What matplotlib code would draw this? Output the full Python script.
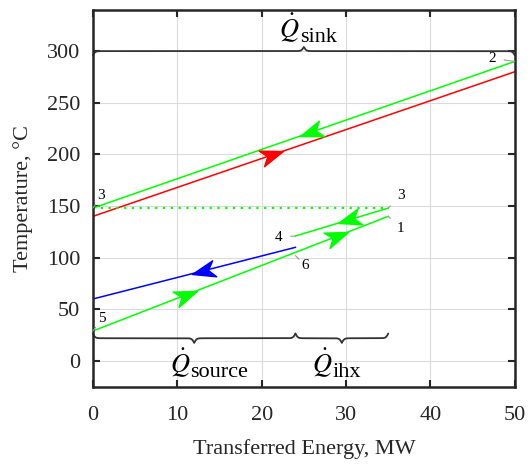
import matplotlib
matplotlib.use('Agg')
import matplotlib.pyplot as plt
import numpy as np
from matplotlib.path import Path
from matplotlib.markers import MarkerStyle
from matplotlib.transforms import Affine2D

plt.rcParams['font.family'] = ['Liberation Serif', 'DejaVu Serif']
plt.rcParams['mathtext.fontset'] = 'stix'

# data
sink_x = [0, 50]
sink_y = [140, 280]          # heat sink (red)
hot_x = [0, 50]
hot_y = [148, 290]           # 3 -> 2 (green)
ihx_x = [24, 35]
ihx_y = [121, 148]           # 4 -> 3 (green)
evap_x = [0, 35]
evap_y = [29, 140]           # 5 -> 1 (green)
source_x = [0, 24]
source_y = [60, 110]         # heat source (blue)
dotted_x = [0, 35]
dotted_y = [148, 148]

# arrow tip x positions and directions along each line
arrows = [
    (sink_x, sink_y, 22.5, 1, 'red'),
    (hot_x, hot_y, 24.5, -1, 'lime'),
    (ihx_x, ihx_y, 29.0, -1, 'lime'),
    (evap_x, evap_y, 12.3, 1, 'lime'),
    (evap_x, evap_y, 30.2, 1, 'lime'),
    (source_x, source_y, 11.7, -1, 'blue'),
]

# state point labels: text, point, label position
points = [
    ('2', (50, 290), (47.3, 293)),
    ('3', (0, 148), (1.0, 160)),
    ('3', (35, 148), (36.5, 160)),
    ('1', (35, 140), (36.5, 128)),
    ('4', (24, 121), (22.0, 120)),
    ('6', (24, 102), (25.2, 92)),
    ('5', (0, 29), (1.1, 41)),
]

# braces: x start, x end, y, height, pointing up
braces = [(0, 50, 300, 8, True), (0, 24, 22, 9, False), (24, 35, 22, 9, False)]
# heat labels: subscript, x of join, baseline y of Q, baseline y of subscript
heat_labels = [('sink', 24.5, 313.5, 308.8),
               ('source', 11.5, -10.5, -15.2),
               ('ihx', 28.4, -10.5, -15.2)]

fig = plt.figure(figsize=(5.28, 4.66), dpi=100)
ax = fig.add_axes([0.176, 0.170, 0.799, 0.809])
ax.set_xlim(0, 50)
ax.set_ylim(-25, 340)

ax.plot(sink_x, sink_y, color='red', lw=1.1)
ax.plot(hot_x, hot_y, color='lime', lw=1.1)
ax.plot(ihx_x, ihx_y, color='lime', lw=1.1)
ax.plot(evap_x, evap_y, color='lime', lw=1.1)
ax.plot(source_x, source_y, color='blue', lw=1.1)
ax.plot(dotted_x, dotted_y, color='lime', lw=1.6, ls=(0, (1, 2.5)))

# notched arrow heads
head = Path([(0, 0), (-1, 0.36), (-0.72, 0), (-1, -0.36), (0, 0)],
            [Path.MOVETO, Path.LINETO, Path.LINETO, Path.LINETO, Path.CLOSEPOLY])
for lx, ly, xt, d, c in arrows:
    yt = np.interp(xt, lx, ly)
    p0 = ax.transData.transform((lx[0], ly[0]))
    p1 = ax.transData.transform((lx[-1], ly[-1]))
    ang = np.degrees(np.arctan2(p1[1] - p0[1], p1[0] - p0[0]))
    if d < 0:
        ang += 180
    m = MarkerStyle(head, transform=Affine2D().rotate_deg(ang))
    ax.plot([xt], [yt], marker=m, markersize=33, color=c, mec=c, ls='none')

for t, pt, pos in points:
    ax.annotate(t, xy=pt, xytext=pos, fontsize=11, ha='center', va='center',
                arrowprops=dict(arrowstyle='-', color='0.6', lw=0.8,
                                shrinkA=4, shrinkB=0))


def brace(x0, x1, y, h, up):
    xm = (x0 + x1) / 2
    beta = 7.0
    xs = np.linspace(x0, xm, 300)
    half = (1 / (1 + np.exp(-beta * (xs - x0))) + 1 / (1 + np.exp(-beta * (xs - xm))))
    yh = h * (half - 1.0)
    xx = np.concatenate([xs, xm + (xm - xs[::-1])])
    yy = np.concatenate([yh, yh[::-1]])
    s = 1 if up else -1
    ax.plot(xx, y + s * yy, color='#333333', lw=1.3, clip_on=False,
            solid_capstyle='round')


for b in braces:
    brace(*b)

for sub, xj, yq, ys in heat_labels:
    ax.text(xj, yq, r'$\dot{Q}$', fontsize=19, ha='right', va='baseline')
    ax.text(xj, ys, sub, fontsize=16, ha='left', va='baseline')

ax.set_xticks([0, 10, 20, 30, 40, 50])
ax.set_yticks([0, 50, 100, 150, 200, 250, 300])
ax.grid(True, color='0.86', lw=0.8)
ax.set_axisbelow(True)
ax.tick_params(direction='in', top=True, right=True, length=5, width=1.5,
               labelsize=16, colors='#262626', pad=9)
ax.tick_params(axis='x', pad=14)
for s in ax.spines.values():
    s.set_linewidth(1.8)
    s.set_color('#262626')
ax.set_xlabel('Transferred Energy, MW', fontsize=16, color='#262626', labelpad=10)
ax.set_ylabel('Temperature, °C', fontsize=16, color='#262626', labelpad=10)

fig.savefig('out.png', dpi=100)
